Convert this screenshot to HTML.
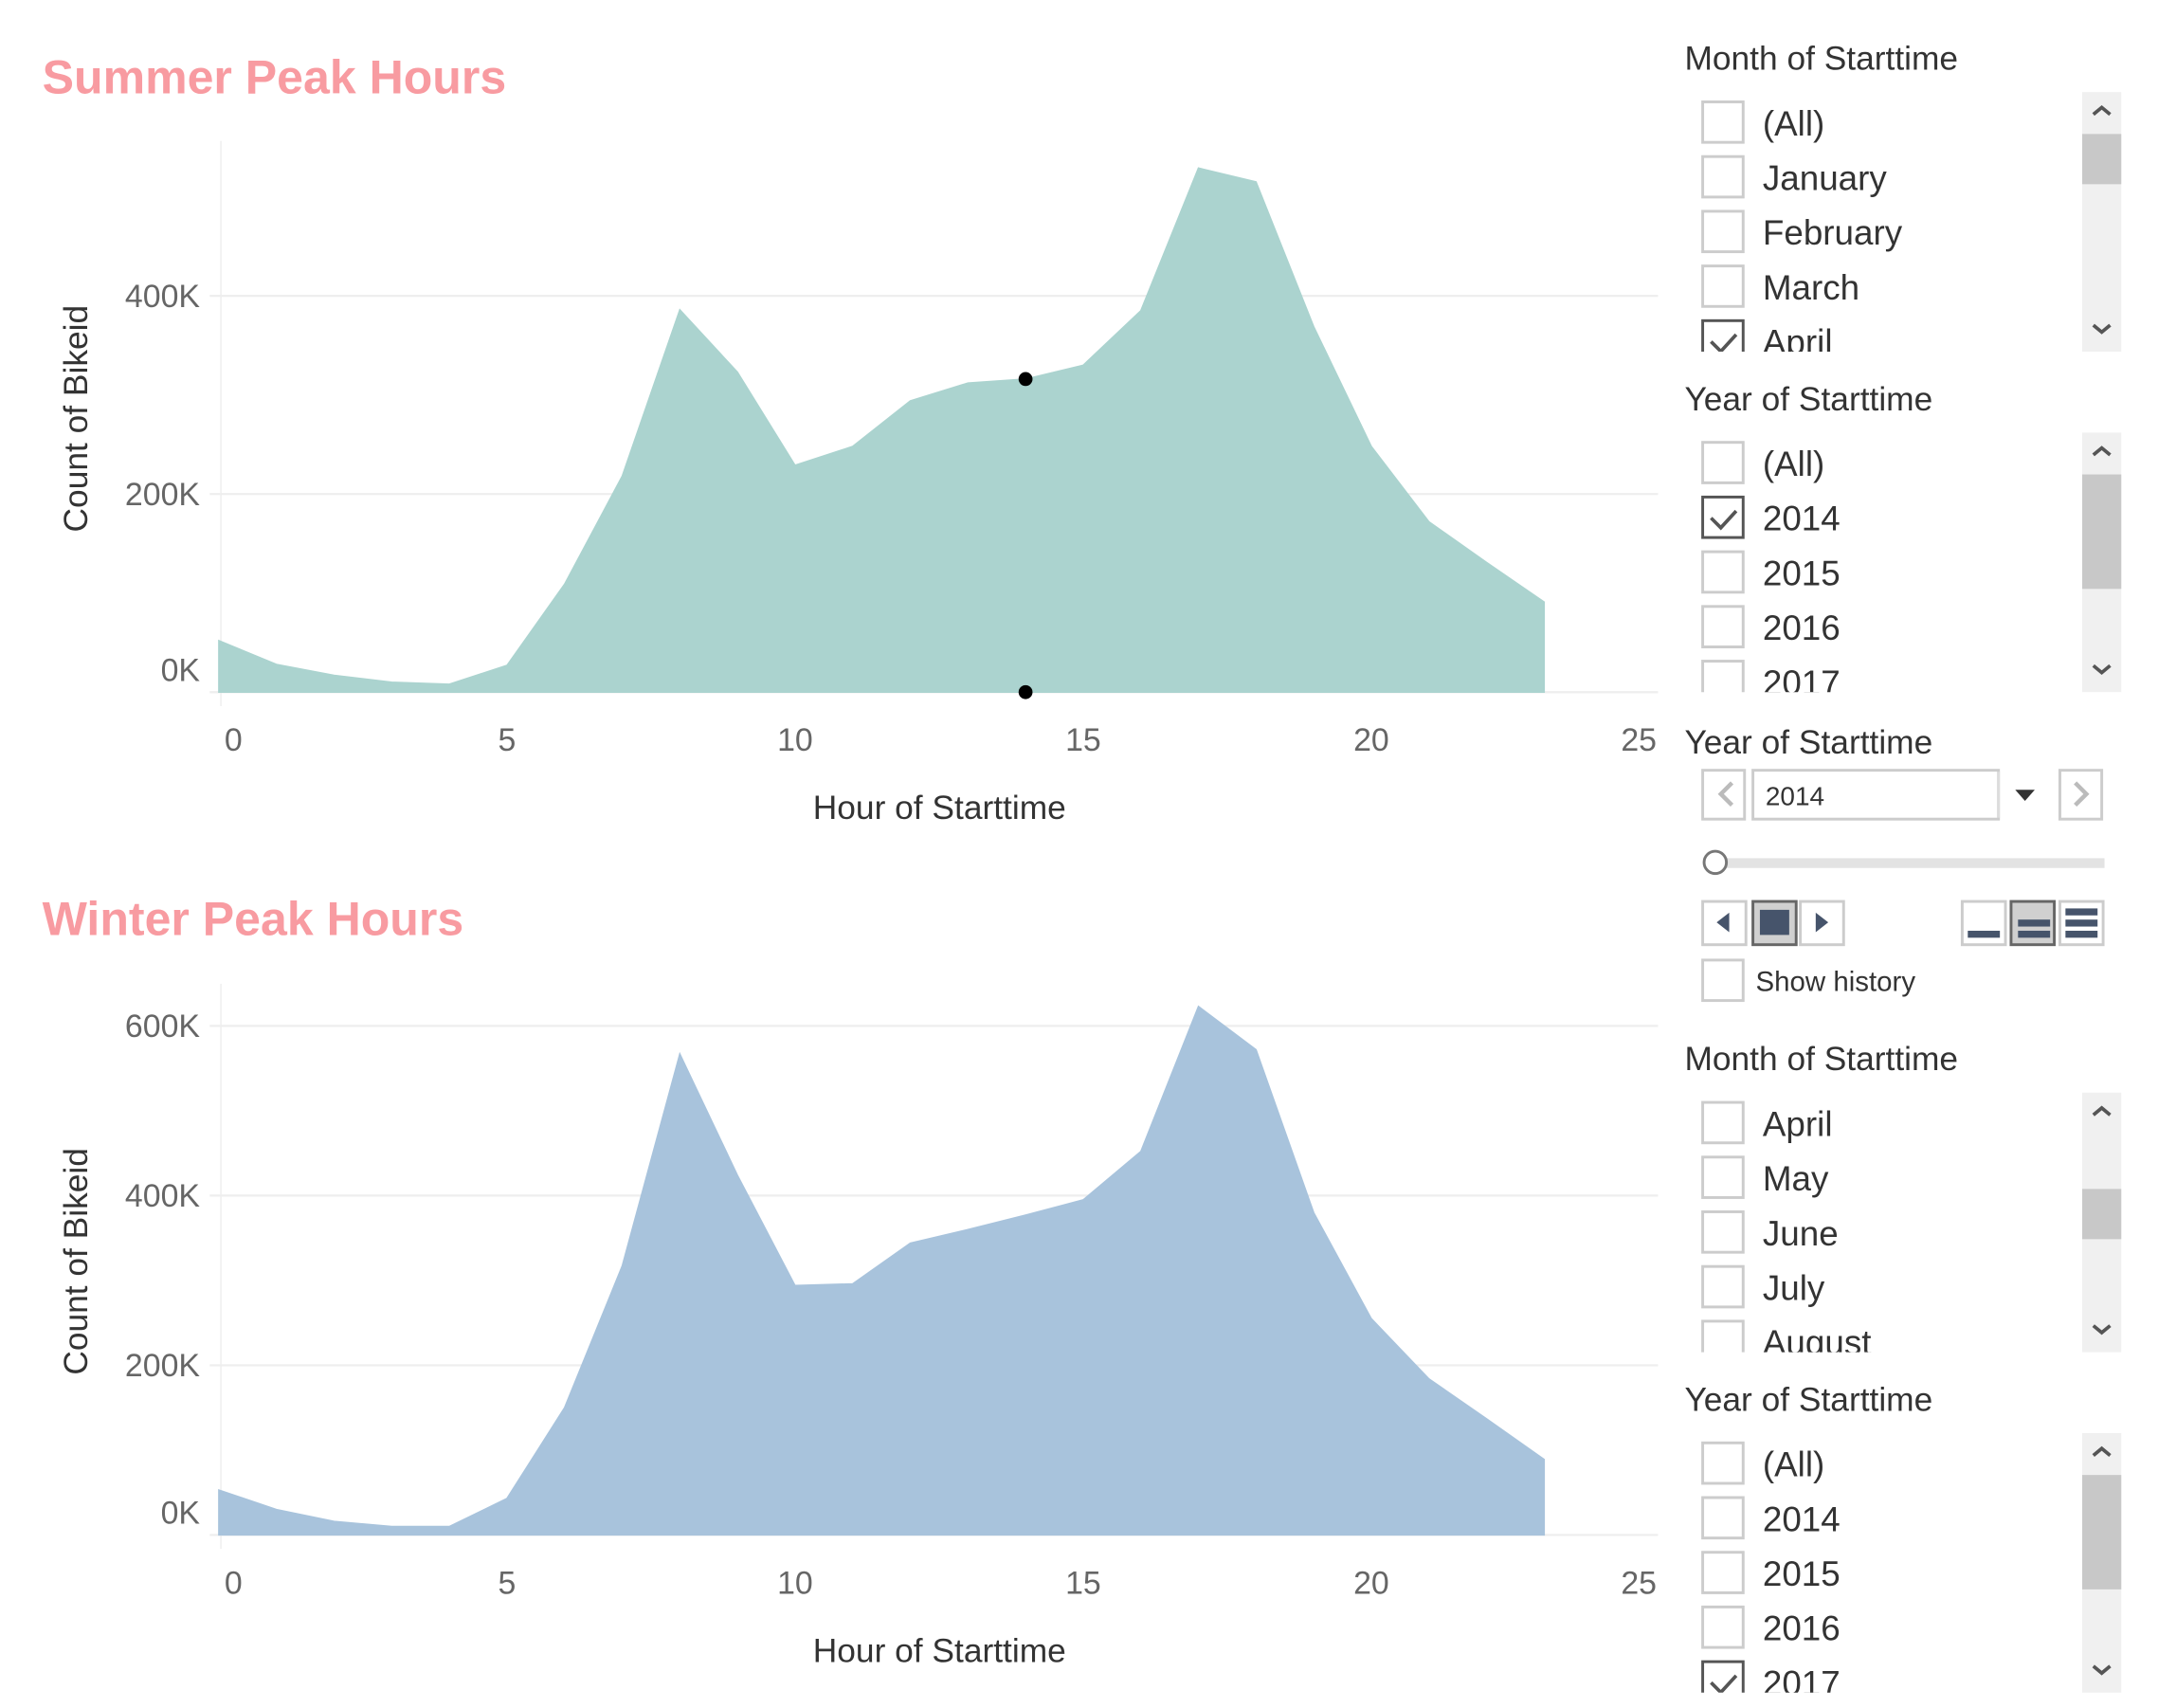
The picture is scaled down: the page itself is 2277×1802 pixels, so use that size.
<!DOCTYPE html>
<html><head><meta charset="utf-8"><style>
html,body{margin:0;padding:0;background:#fff;}
svg{display:block;font-family:"Liberation Sans",sans-serif;}
</style></head><body>
<svg id="root" width="2277" height="1802" viewBox="0 0 1546 1224">
<text x="30" y="67" font-size="34" font-weight="bold" fill="#f89ba1">Summer Peak Hours</text>
<text x="30" y="670" font-size="34" font-weight="bold" fill="#f89ba1">Winter Peak Hours</text>
<g id="chart1"></g>
<g id="chart2"></g>
<g id="panel"></g>
</svg>
<script>
const hours=[0,1,2,3,4,5,6,7,8,9,10,11,12,13,14,15,16,17,18,19,20,21,22,23];
const summerValues=[52,28,17,10,8,27,109,218,386,323,229,248,294,312,316,330,385,529,515,369,248,172,131,91];
const winterValues=[53,30,16,10,10,43,150,317,567,424,294,296,344,360,377,395,452,623,572,380,255,184,137,89];
const xTicks=[0,5,10,15,20,25];
const summerYTicks=[0,200,400];
const winterYTicks=[0,200,400,600];
const NS="http://www.w3.org/2000/svg";
function mk(tag,attrs,parent,text){const e=document.createElementNS(NS,tag);for(const k in attrs)e.setAttribute(k,attrs[k]);if(text!==undefined)e.textContent=text;parent.appendChild(e);return e;}
function drawChart(g,vals,yTicks,base,pxPer100,color,dots){
  const x=h=>156.5+41.3*h;
  const y=v=>base-v*pxPer100/100;
  mk('line',{x1:158,x2:158,y1:base-395,y2:base+10,stroke:'#eee'},g);
  yTicks.forEach(t=>{
    const l=mk('line',{x1:150,x2:1188,y1:y(t),y2:y(t),stroke:'#eee','stroke-width':1.5},g);
    
    
    const tx=mk('text',{x:143,y:y(t)+(t===0?-8:8),'font-size':23,fill:'#666','text-anchor':'end'},g,t+'K');
    
    
  });
  xTicks.forEach((t,i)=>{
    const last=i===xTicks.length-1;
    const tx=mk('text',{x:t===0?167:(last?1187:x(t)),y:base+42,'font-size':23,fill:'#666','text-anchor':last?'end':'middle'},g,String(t));
    
    
  });
  let d='M'+x(hours[0])+','+base;
  hours.forEach((h,i)=>{d+=' L'+x(h)+','+y(vals[i]);});
  d+=' L'+x(hours[hours.length-1])+','+base+' Z';
  const a=mk('path',{d:d,fill:color,stroke:color},g);
  
  
  if(dots){
    const c1=mk('circle',{cx:x(14),cy:y(vals[14]),r:5,fill:'#000'},g);
    
    
    const c2=mk('circle',{cx:x(14),cy:base,r:5,fill:'#000'},g);
    
    
  }
  const yt=mk('text',{transform:'translate(62,'+(base-196)+') rotate(-90)','font-size':24,fill:'#333','text-anchor':'middle'},g,'Count of Bikeid');
  
  
  const xt=mk('text',{x:673,y:base+91,'font-size':24,fill:'#333','text-anchor':'middle'},g,'Hour of Starttime');
  
  
}
drawChart(document.getElementById('chart1'),summerValues,summerYTicks,496,71,'#abd3cf',true);
drawChart(document.getElementById('chart2'),winterValues,winterYTicks,1100,60.8,'#a8c3dc',false);

const P=document.getElementById('panel');
function header(y,t){const e=mk('text',{x:1207,y:y,'font-size':24,fill:'#333'},P,t);}
function list(top,items,checked,thumbTop,thumbH){
  const clip='c'+top;
  const cp=mk('clipPath',{id:clip},P);mk('rect',{x:1200,y:top,width:290,height:184},cp);
  const g=mk('g',{'clip-path':'url(#'+clip+')'},P);
  items.forEach((it,i)=>{
    const cy=top+5+i*39.2;
    const b=mk('rect',{x:1220,y:cy,width:29,height:29,fill:'#fff',stroke:checked[i]?'#555':'#ccc','stroke-width':2},g);
    
    
    if(checked[i]) mk('path',{d:`M${1226},${cy+15} l7,7 l11,-12`,fill:'none',stroke:'#555','stroke-width':2.5},g);
    const t=mk('text',{x:1263,y:cy+24,'font-size':25,fill:'#333'},g,it);
    
    
  });
  const sb=mk('rect',{x:1492,y:top-2,width:28,height:186,fill:'#f0f0f0'},P);
  
  mk('rect',{x:1492,y:thumbTop,width:28,height:thumbH,fill:'#c8c8c8'},P);
  mk('path',{d:`M1500,${top+14} l6,-5 l6,5`,fill:'none',stroke:'#555','stroke-width':2.5},P);
  mk('path',{d:`M1500,${top+165} l6,5 l6,-5`,fill:'none',stroke:'#555','stroke-width':2.5},P);
}
header(50,'Month of Starttime');
list(68,['(All)','January','February','March','April'],[0,0,0,0,1],96,36);
header(294,'Year of Starttime');
list(312,['(All)','2014','2015','2016','2017'],[0,1,0,0,0],340,82);
header(540,'Year of Starttime');
const pb=[[1220,30],[1256,176],[1476,30]];
pb.forEach(([x,w])=>{const r=mk('rect',{x:x,y:552,width:w,height:35,fill:'#fff',stroke:'#ccc','stroke-width':2},P);});
mk('line',{x1:1432,x2:1432,y1:553,y2:586,stroke:'#ddd','stroke-width':2},P);
mk('path',{d:'M1241,561 l-8,8 l8,8',fill:'none',stroke:'#bbb','stroke-width':3},P);
mk('path',{d:'M1487,561 l8,8 l-8,8',fill:'none',stroke:'#bbb','stroke-width':3},P);
mk('path',{d:'M1444,566 l14,0 l-7,8 z',fill:'#333'},P);
const yv=mk('text',{x:1265,y:577,'font-size':19,fill:'#333'},P,'2014');
const sl=mk('rect',{x:1228,y:615,width:280,height:7,fill:'#e3e3e3'},P);
mk('circle',{cx:1229,cy:618,r:8,fill:'#fff',stroke:'#777','stroke-width':2},P);
[[1220,false],[1256,true],[1290,false],[1406,false],[1441,true],[1476,false]].forEach(([x,sel])=>{const r=mk('rect',{x:x,y:646,width:31,height:31,fill:sel?'#d0d0d0':'#fff',stroke:sel?'#666':'#ccc','stroke-width':2},P);});
mk('path',{d:'M1239,654 l-9,7 l9,7 z',fill:'#46546b'},P);
mk('rect',{x:1261,y:652,width:21,height:18,fill:'#46546b'},P);
mk('path',{d:'M1301,654 l9,7 l-9,7 z',fill:'#46546b'},P);
mk('rect',{x:1410,y:667,width:23,height:5,fill:'#46546b'},P);
mk('rect',{x:1446,y:659,width:23,height:5,fill:'#46546b'},P);mk('rect',{x:1446,y:667,width:23,height:5,fill:'#46546b'},P);
mk('rect',{x:1480,y:651,width:23,height:5,fill:'#46546b'},P);mk('rect',{x:1480,y:659,width:23,height:5,fill:'#46546b'},P);mk('rect',{x:1480,y:667,width:23,height:5,fill:'#46546b'},P);
const sh=mk('rect',{x:1220,y:688,width:29,height:29,fill:'#fff',stroke:'#ccc','stroke-width':2},P);
mk('text',{x:1258,y:710,'font-size':20,fill:'#333'},P,'Show history');
header(767,'Month of Starttime');
list(785,['April','May','June','July','August'],[0,0,0,0,0],852,36);
header(1011,'Year of Starttime');
list(1029,['(All)','2014','2015','2016','2017'],[0,0,0,0,1],1057,82);
</script>
</body></html>
